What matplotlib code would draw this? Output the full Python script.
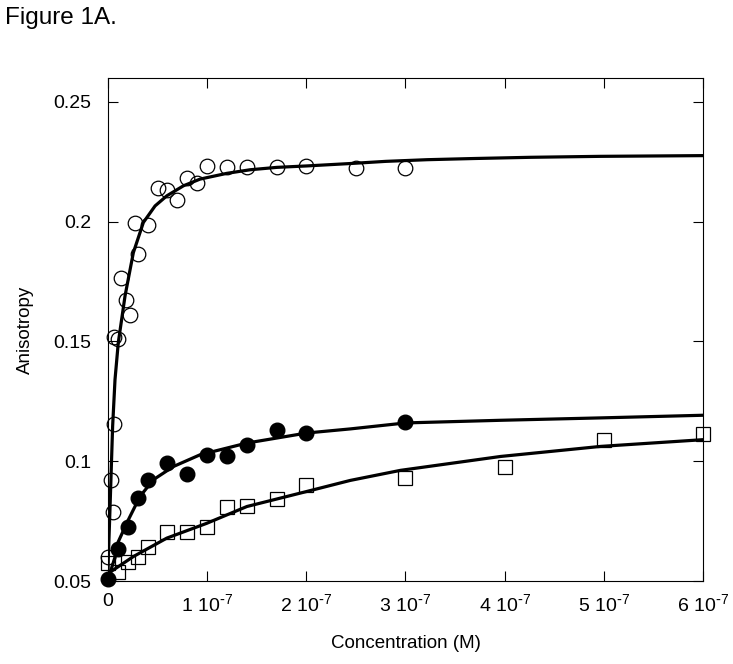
import numpy as np
import matplotlib
matplotlib.use('Agg')
import matplotlib.pyplot as plt

plt.rcParams['font.family'] = ['Liberation Sans', 'DejaVu Sans']
plt.rcParams['mathtext.default'] = 'regular'

# open circles (values in units of 1e-7 M)
open_x = [0, 0.03, 0.05, 0.06, 0.06, 0.1, 0.13, 0.18, 0.22, 0.27, 0.3, 0.4,
          0.5, 0.6, 0.7, 0.8, 0.9, 1.0, 1.2, 1.4, 1.7, 2.0, 2.5, 3.0]
open_y = [0.0602, 0.092, 0.0787, 0.1157, 0.152, 0.1511, 0.1764, 0.1672, 0.1609,
          0.1994, 0.1865, 0.1985, 0.2139, 0.2132, 0.209, 0.2182, 0.216, 0.2233,
          0.2229, 0.2229, 0.2229, 0.2233, 0.2223, 0.2223]
open_fit_x = [0, 0.003, 0.02, 0.047, 0.071, 0.104, 0.172, 0.256, 0.357, 0.475,
              0.593, 0.761, 0.929, 1.199, 1.434, 1.704, 2.007, 2.444, 2.8, 3.219,
              3.7, 4.263, 4.97, 6.0]
open_fit_y = [0.05, 0.0588, 0.0797, 0.1146, 0.1341, 0.1495, 0.169, 0.1871,
              0.1997, 0.2066, 0.2108, 0.215, 0.2178, 0.2202, 0.2217, 0.2227,
              0.2233, 0.2243, 0.2252, 0.2259, 0.2264, 0.2269, 0.2273, 0.2276]

# filled circles
fill_x = [0, 0.1, 0.2, 0.3, 0.4, 0.6, 0.8, 1.0, 1.2, 1.4, 1.7, 2.0, 3.0]
fill_y = [0.0507, 0.0634, 0.0727, 0.0846, 0.092, 0.0992, 0.0948, 0.1027,
          0.102, 0.1069, 0.1132, 0.1118, 0.1164]
fill_fit_x = [0, 0.03, 0.088, 0.104, 0.205, 0.323, 0.458, 0.66, 0.929, 1.199,
              1.401, 1.704, 2.007, 2.444, 3.003, 3.96, 4.97, 6.0]
fill_fit_y = [0.05, 0.0545, 0.0623, 0.0664, 0.0755, 0.0853, 0.0923, 0.0978,
              0.1027, 0.1055, 0.1076, 0.1097, 0.1118, 0.1135, 0.116, 0.1171,
              0.1181, 0.1192]

# open squares
sq_x = [0, 0.1, 0.2, 0.3, 0.4, 0.6, 0.8, 1.0, 1.2, 1.4, 1.7, 2.0, 3.0, 4.0,
        5.0, 6.0]
sq_y = [0.0574, 0.0539, 0.0581, 0.0599, 0.0644, 0.0704, 0.0704, 0.0725,
        0.0808, 0.0815, 0.0842, 0.0902, 0.0932, 0.0974, 0.1087, 0.1114]
sq_fit_x = [0, 0.003, 0.256, 0.593, 0.997, 1.401, 2.007, 2.444, 2.95, 3.96,
            4.97, 6.0]
sq_fit_y = [0.051, 0.0532, 0.0602, 0.0679, 0.0741, 0.0811, 0.0874, 0.092,
            0.0962, 0.102, 0.1062, 0.109]

x_ticks = [0, 1, 2, 3, 4, 5, 6]
x_labels = ['0'] + [r'%d 10$^{\text{-}7}$' % t for t in x_ticks[1:]]
y_ticks = [0.05, 0.1, 0.15, 0.2, 0.25]
y_labels = ['0.05', '0.1', '0.15', '0.2', '0.25']

fig = plt.figure(figsize=(7.33, 6.64), dpi=100)
ax = fig.add_axes([0.1473, 0.125, 0.8117, 0.7575])

scale = 1e-7
ax.plot(np.array(open_fit_x) * scale, open_fit_y, color='black', lw=2.3, zorder=2)
ax.plot(np.array(fill_fit_x) * scale, fill_fit_y, color='black', lw=2.3, zorder=2)
ax.plot(np.array(sq_fit_x) * scale, sq_fit_y, color='black', lw=2.3, zorder=2)

ax.plot(np.array(open_x) * scale, open_y, 'o', ms=10.5, mfc='none', mec='black',
        mew=0.9, zorder=3, clip_on=False)
ax.plot(np.array(fill_x) * scale, fill_y, 'o', ms=10.5, mfc='black', mec='black',
        zorder=3, clip_on=False)
ax.plot(np.array(sq_x) * scale, sq_y, 's', ms=10, mfc='none', mec='black',
        mew=0.9, zorder=3, clip_on=False)

ax.set_xlim(0, 6e-7)
ax.set_ylim(0.05, 0.26)
ax.set_xticks(np.array(x_ticks) * scale)
ax.set_xticklabels(x_labels)
ax.set_yticks(y_ticks)
ax.set_yticklabels(y_labels)
ax.tick_params(direction='in', length=7, width=0.8, top=True, right=True,
               labelsize=14)
ax.tick_params(axis='x', pad=9)
ax.tick_params(axis='y', pad=12)
for s in ax.spines.values():
    s.set_linewidth(0.8)

ax.set_xlabel('Concentration (M)', fontsize=13.5, labelpad=14)
ax.set_ylabel('Anisotropy', fontsize=13.5, labelpad=14)

fig.text(0.007, 0.99, 'Figure 1A.', fontsize=17.5, va='top', ha='left')

fig.savefig('out.png', dpi=100)
